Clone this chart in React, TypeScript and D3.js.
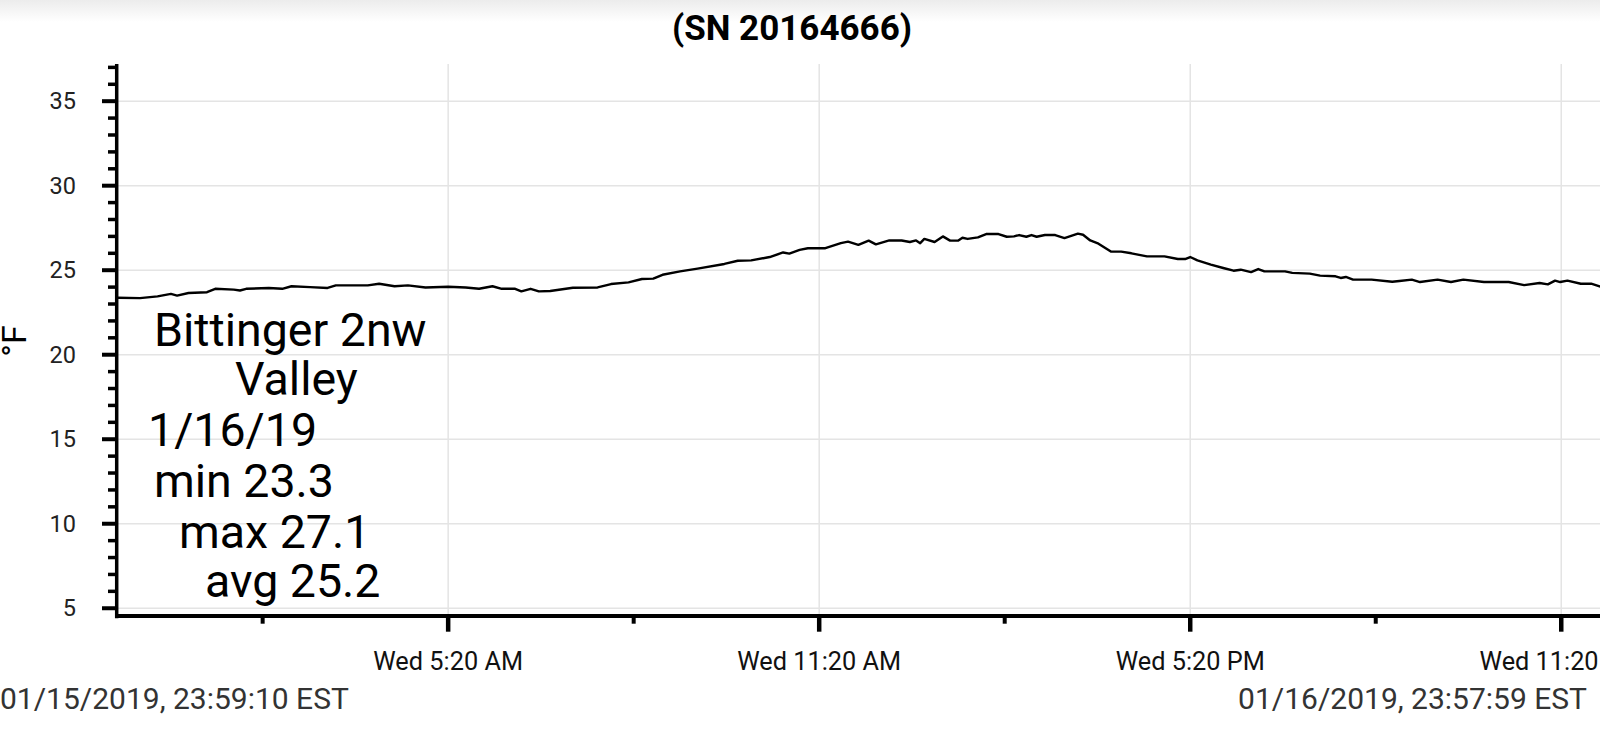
import React from "react";
import * as d3 from "d3";

const titleText = "(SN 20164666)";
const yLabel = "°F";
const startTime = "2019-01-15 23:59:10";
const endTime = "2019-01-16 23:57:59";
const startLabel = "01/15/2019, 23:59:10 EST";
const endLabel = "01/16/2019, 23:57:59 EST";

// sample times on 2019-01-16 (between start and end)
const sampleTimes = [
  "00:21", "00:38", "00:51", "00:57", "01:08", "01:26", "01:34", "01:52", "01:58", "02:04",
  "02:26", "02:39", "02:48", "03:06", "03:23", "03:31", "04:02", "04:13", "04:28", "04:41",
  "04:58", "05:20", "05:37", "05:50", "06:03", "06:12", "06:25", "06:31", "06:40", "06:48",
  "06:59", "07:21", "07:45", "07:58", "08:15", "08:28", "08:39", "08:48", "09:05", "09:22",
  "09:48", "10:01", "10:14", "10:32", "10:45", "10:51", "11:01", "11:09", "11:26", "11:41",
  "11:48", "11:58", "12:08", "12:15", "12:28", "12:40", "12:48", "12:54", "12:58", "13:02",
  "13:12", "13:20", "13:27", "13:35", "13:39", "13:44", "13:54", "14:02", "14:14", "14:22",
  "14:29", "14:34", "14:41", "14:46", "14:51", "14:59", "15:09", "15:18", "15:31", "15:36",
  "15:43", "15:51", "16:03", "16:13", "16:23", "16:38", "16:55", "17:08", "17:15", "17:20",
  "17:27", "17:40", "17:52", "18:02", "18:09", "18:19", "18:26", "18:32", "18:52", "18:59",
  "19:16", "19:26", "19:41", "19:46", "19:51", "19:58", "20:16", "20:36", "20:43", "20:55",
  "21:03", "21:20", "21:33", "21:45", "22:05", "22:29", "22:44", "22:59", "23:07", "23:14",
  "23:19", "23:26", "23:39", "23:49",
];

// temperature °F: first = at startTime, then one per sampleTimes, last = at endTime
const temps = [
  23.37,
  23.35, 23.45, 23.6, 23.5, 23.65, 23.7, 23.9, 23.85, 23.8, 23.9,
  23.95, 23.9, 24.05, 24.0, 23.95, 24.1, 24.1, 24.2, 24.05, 24.1,
  23.98, 24.02, 23.98, 23.9, 24.05, 23.9, 23.9, 23.75, 23.9, 23.75,
  23.77, 23.96, 23.98, 24.18, 24.28, 24.48, 24.5, 24.73, 24.93, 25.09,
  25.37, 25.56, 25.58, 25.78, 26.05, 25.98, 26.2, 26.3, 26.3, 26.6,
  26.69, 26.5, 26.75, 26.53, 26.76, 26.76, 26.67, 26.76, 26.6, 26.85,
  26.67, 27.0, 26.75, 26.76, 26.92, 26.85, 26.94, 27.14, 27.14, 26.98,
  27.0, 27.08, 26.98, 27.08, 26.98, 27.08, 27.08, 26.9, 27.16, 27.1,
  26.76, 26.57, 26.1, 26.1, 26.0, 25.82, 25.82, 25.66, 25.66, 25.78,
  25.58, 25.33, 25.13, 24.97, 25.03, 24.89, 25.07, 24.93, 24.93, 24.84,
  24.8, 24.68, 24.64, 24.54, 24.6, 24.44, 24.44, 24.32, 24.36, 24.44,
  24.3, 24.44, 24.3, 24.44, 24.3, 24.3, 24.12, 24.24, 24.16, 24.38,
  24.3, 24.38, 24.2, 24.2,
  24.03,
];

const xMajorTicks = ["2019-01-16 05:20", "2019-01-16 11:20", "2019-01-16 17:20", "2019-01-16 23:20"];
const xMinorTicks = ["2019-01-16 02:20", "2019-01-16 08:20", "2019-01-16 14:20", "2019-01-16 20:20"];
const yMajorTicks = [5, 10, 15, 20, 25, 30, 35];
const yMinorTicks = [6, 7, 8, 9, 11, 12, 13, 14, 16, 17, 18, 19, 21, 22, 23, 24, 26, 27, 28, 29, 31, 32, 33, 34, 36, 37];
const yDomain = [4.5, 37.2];

const noteLines = ["Bittinger 2nw", "Valley", "1/16/19", "min 23.3", "max 27.1", "avg 25.2"];
const noteX = [154, 235, 148, 154, 179, 205];
const noteY = [346, 395, 446, 497, 548, 597];

const parse = d3.timeParse("%Y-%m-%d %H:%M:%S");
const parseHM = d3.timeParse("%Y-%m-%d %H:%M");
const fmt = d3.timeFormat("%a %-I:%M %p");

export default function App() {
  const W = 1600;
  const H = 731;
  const x0 = 117.5;
  const x1 = 1600.4;
  const yTop = 64;
  const yBot = 616.7;

  const t0 = parse(startTime)!;
  const t1 = parse(endTime)!;
  const data = [
    { t: t0, v: temps[0] },
    ...sampleTimes.map((s, i) => ({ t: parseHM("2019-01-16 " + s)!, v: temps[i + 1] })),
    { t: t1, v: temps[temps.length - 1] },
  ];

  const x = d3.scaleTime().domain([t0, t1]).range([x0, x1]);
  const y = d3.scaleLinear().domain(yDomain).range([yBot, yTop]);
  const line = d3
    .line<{ t: Date; v: number }>()
    .x((d) => x(d.t))
    .y((d) => y(d.v));

  const majors = xMajorTicks.map((s) => parseHM(s)!);
  const minors = xMinorTicks.map((s) => parseHM(s)!);
  const font = "Roboto, 'Noto Sans', sans-serif";

  return (
    <svg
      width={W}
      height={H}
      style={{ position: "fixed", left: 0, top: 0, background: "#fff" }}
      fontFamily={font}
    >
      <defs>
        <linearGradient id="topfade" x1="0" y1="0" x2="0" y2="1">
          <stop offset="0" stopColor="#ececec" />
          <stop offset="1" stopColor="#ffffff" />
        </linearGradient>
      </defs>
      <rect x={0} y={0} width={W} height={22} fill="url(#topfade)" />

      {/* grid */}
      {yMajorTicks.map((v) => (
        <line key={"gy" + v} x1={x0} x2={W} y1={y(v)} y2={y(v)} stroke="#e4e4e4" strokeWidth={1.5} />
      ))}
      {majors.map((t, i) => (
        <line key={"gx" + i} x1={x(t)} x2={x(t)} y1={yTop} y2={yBot} stroke="#e4e4e4" strokeWidth={1.5} />
      ))}

      {/* data line */}
      <path d={line(data) || ""} fill="none" stroke="#000" strokeWidth={2.4} strokeLinejoin="round" />

      {/* y axis */}
      <line x1={x0 - 0.8} x2={x0 - 0.8} y1={yTop} y2={yBot + 1.5} stroke="#000" strokeWidth={3.5} />
      {yMajorTicks.map((v) => (
        <g key={"ym" + v}>
          <line x1={102} x2={x0} y1={y(v)} y2={y(v)} stroke="#000" strokeWidth={4} />
          <text x={76} y={y(v)} dy="0.35em" textAnchor="end" fontSize={23.5} fill="#222">
            {v}
          </text>
        </g>
      ))}
      {yMinorTicks.map((v) => (
        <line key={"yn" + v} x1={108} x2={x0} y1={y(v)} y2={y(v)} stroke="#000" strokeWidth={3.5} />
      ))}

      {/* x axis */}
      <line x1={x0 - 2.5} x2={W} y1={yBot - 0.7} y2={yBot - 0.7} stroke="#000" strokeWidth={4} />
      {majors.map((t, i) => (
        <g key={"xm" + i}>
          <line x1={x(t)} x2={x(t)} y1={yBot} y2={yBot + 15} stroke="#000" strokeWidth={4.5} />
          <text x={x(t)} y={670} textAnchor="middle" fontSize={25.3} fill="#111">
            {fmt(t)}
          </text>
        </g>
      ))}
      {minors.map((t, i) => (
        <line key={"xn" + i} x1={x(t)} x2={x(t)} y1={yBot} y2={yBot + 7} stroke="#000" strokeWidth={4} />
      ))}

      {/* title */}
      <text x={792} y={40} textAnchor="middle" fontSize={35} fontWeight="bold" fill="#000">
        {titleText}
      </text>

      {/* y label */}
      <text transform="translate(26,341) rotate(-90)" textAnchor="middle" fontSize={34} fill="#000">
        {yLabel}
      </text>

      {/* annotation */}
      {noteLines.map((s, i) => (
        <text key={"n" + i} x={noteX[i]} y={noteY[i]} fontSize={46.5} fill="#000">
          {s}
        </text>
      ))}

      {/* bottom date labels */}
      <text x={0} y={709} fontSize={30} fill="#333">
        {startLabel}
      </text>
      <text x={1587} y={709} textAnchor="end" fontSize={30} fill="#333">
        {endLabel}
      </text>
    </svg>
  );
}
